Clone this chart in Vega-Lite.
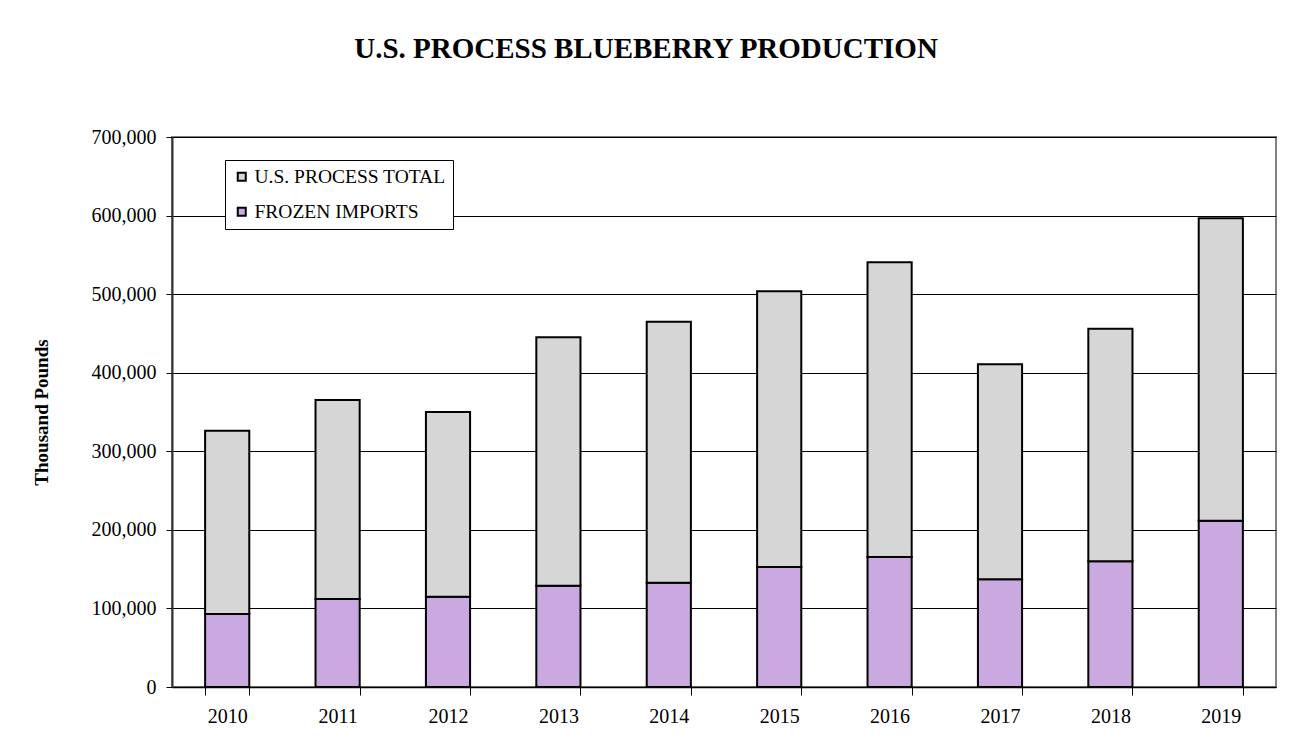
{
  "$schema": "https://vega.github.io/schema/vega-lite/v6.json",
  "width": 1104,
  "height": 550,
  "autosize": {"type": "none"},
  "padding": {"left": 172, "top": 137, "right": 26, "bottom": 67},
  "background": "white",
  "title": {
    "text": "U.S. PROCESS BLUEBERRY PRODUCTION",
    "font": "Liberation Serif",
    "fontSize": 29,
    "fontWeight": "bold",
    "color": "black",
    "anchor": "middle",
    "frame": "group",
    "dx": -78,
    "offset": 63
  },
  "data": {
    "values": [
      {"year": "2010", "series": "FROZEN IMPORTS", "value": 92900},
      {"year": "2011", "series": "FROZEN IMPORTS", "value": 112000},
      {"year": "2012", "series": "FROZEN IMPORTS", "value": 115000},
      {"year": "2013", "series": "FROZEN IMPORTS", "value": 129000},
      {"year": "2014", "series": "FROZEN IMPORTS", "value": 132800},
      {"year": "2015", "series": "FROZEN IMPORTS", "value": 152700},
      {"year": "2016", "series": "FROZEN IMPORTS", "value": 165500},
      {"year": "2017", "series": "FROZEN IMPORTS", "value": 137000},
      {"year": "2018", "series": "FROZEN IMPORTS", "value": 160000},
      {"year": "2019", "series": "FROZEN IMPORTS", "value": 211700},
      {"year": "2010", "series": "U.S. PROCESS TOTAL", "value": 233300},
      {"year": "2011", "series": "U.S. PROCESS TOTAL", "value": 253300},
      {"year": "2012", "series": "U.S. PROCESS TOTAL", "value": 235000},
      {"year": "2013", "series": "U.S. PROCESS TOTAL", "value": 316100},
      {"year": "2014", "series": "U.S. PROCESS TOTAL", "value": 332100},
      {"year": "2015", "series": "U.S. PROCESS TOTAL", "value": 350900},
      {"year": "2016", "series": "U.S. PROCESS TOTAL", "value": 375000},
      {"year": "2017", "series": "U.S. PROCESS TOTAL", "value": 273700},
      {"year": "2018", "series": "U.S. PROCESS TOTAL", "value": 296000},
      {"year": "2019", "series": "U.S. PROCESS TOTAL", "value": 384800}
    ]
  },
  "mark": {"type": "bar", "stroke": "black", "strokeWidth": 2, "opacity": 1},
  "encoding": {
    "x": {
      "field": "year",
      "type": "ordinal",
      "scale": {"paddingInner": 0.6, "paddingOuter": 0.3},
      "axis": {
        "title": null,
        "labelAngle": 0,
        "labelFont": "Liberation Serif",
        "labelFontSize": 20,
        "labelColor": "black",
        "labelPadding": 11,
        "tickBand": "extent",
        "tickSize": 8,
        "tickColor": "black",
        "domainColor": "black",
        "domainWidth": 1.5,
        "grid": false
      }
    },
    "y": {
      "field": "value",
      "type": "quantitative",
      "stack": "zero",
      "scale": {"domain": [0, 700000], "nice": false},
      "axis": {
        "title": "Thousand Pounds",
        "titleFont": "Liberation Serif",
        "titleFontSize": 19,
        "titleFontWeight": "bold",
        "titleColor": "black",
        "titlePadding": 40,
        "values": [0, 100000, 200000, 300000, 400000, 500000, 600000, 700000],
        "format": ",d",
        "labelFont": "Liberation Serif",
        "labelFontSize": 20,
        "labelColor": "black",
        "labelPadding": 10,
        "tickSize": 6,
        "tickColor": "black",
        "domainColor": "#333333",
        "domainWidth": 2,
        "grid": true,
        "gridColor": "black",
        "gridWidth": 1
      }
    },
    "color": {
      "field": "series",
      "type": "nominal",
      "scale": {
        "domain": ["U.S. PROCESS TOTAL", "FROZEN IMPORTS"],
        "range": ["#d6d6d6", "#caa9e1"]
      },
      "legend": {
        "title": null,
        "orient": "none",
        "legendX": 53,
        "legendY": 23,
        "symbolType": "square",
        "symbolSize": 64,
        "symbolStrokeColor": "black",
        "symbolStrokeWidth": 2,
        "symbolOpacity": 1,
        "labelFont": "Liberation Serif",
        "labelFontSize": 19.5,
        "labelColor": "black",
        "labelOffset": 3,
        "labelLimit": 400,
        "rowPadding": 14,
        "padding": 7,
        "strokeColor": "black",
        "fillColor": "white",
        "labelExpr": "datum.label + '  '"
      }
    },
    "order": {"field": "series", "sort": "ascending"}
  },
  "config": {
    "view": {"stroke": "#808080", "strokeWidth": 2},
    "axis": {"tickWidth": 1}
  }
}
